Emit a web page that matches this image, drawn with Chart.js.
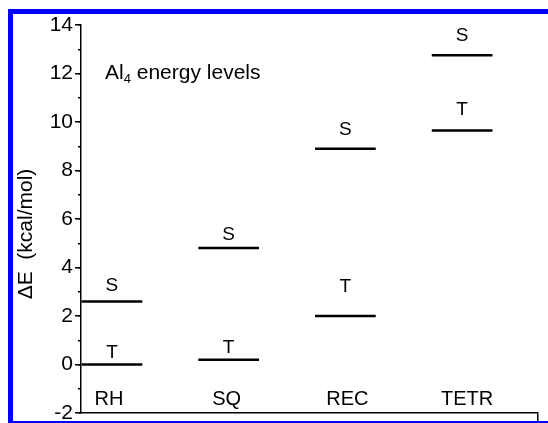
<!DOCTYPE html>
<html>
<head>
<meta charset="utf-8">
<script src="https://cdn.jsdelivr.net/npm/chart.js@4.4.0/dist/chart.umd.min.js"></script>
<style>
  html, body { margin: 0; padding: 0; background: #fff; }
  #wrap { position: relative; width: 548px; height: 423px; overflow: hidden; }
  #frame { position: absolute; left: 8px; top: 9px; width: 600px; height: 407px; border: 5px solid #0000ff; }
  canvas { position: absolute; left: 0; top: 0; }
</style>
</head>
<body>
<div id="wrap">
  <div id="frame"></div>
  <canvas id="chart" width="548" height="423"></canvas>
</div>
<script>
// energy levels of the Al4 isomers, kcal/mol
const structures = ['RH', 'SQ', 'REC', 'TETR'];
const singletE = [2.6, 4.8, 8.9, 12.75];
const tripletE = [0.0, 0.2, 2.0, 9.65];

const FONT = '"Liberation Sans", Arial, sans-serif';
const halfWidth = 0.26;          // half length of a level bar, x units
const labelGapS = [10, 8, 14, 14];  // px between bar and its S label
const labelGapT = [7, 7, 24, 15];
const nameShift = [-3, -2, 2, 5];

const datasets = [];
structures.forEach((name, i) => {
    [singletE[i], tripletE[i]].forEach(e => {
        datasets.push({
            data: [{ x: i + 1 - halfWidth, y: e }, { x: i + 1 + halfWidth, y: e }],
            showLine: true,
            borderColor: '#000',
            borderWidth: 2.5,
            pointRadius: 0
        });
    });
});

const textPlugin = {
    id: 'levelText',
    afterDraw(chart) {
        const ctx = chart.ctx;
        const xs = chart.scales.x, ys = chart.scales.y;
        ctx.save();
        ctx.fillStyle = '#000';
        ctx.textAlign = 'center';
        ctx.textBaseline = 'alphabetic';
        ctx.font = '19px ' + FONT;
        structures.forEach((name, i) => {
            const cx = xs.getPixelForValue(i + 1);
            ctx.fillText('S', cx, ys.getPixelForValue(singletE[i]) - labelGapS[i]);
            ctx.fillText('T', cx, ys.getPixelForValue(tripletE[i]) - labelGapT[i]);
        });
        ctx.font = '20px ' + FONT;
        structures.forEach((name, i) => {
            ctx.fillText(name, xs.getPixelForValue(i + 1) + nameShift[i], ys.getPixelForValue(-1.67));
        });

        // title inside the plot
        ctx.textAlign = 'left';
        ctx.font = '21px ' + FONT;
        let x = 105;
        ctx.fillText('Al', x, 79);
        x += ctx.measureText('Al').width;
        ctx.font = '13px ' + FONT;
        ctx.fillText('4', x, 83);
        x += ctx.measureText('4').width;
        ctx.font = '21px ' + FONT;
        ctx.fillText(' energy levels', x, 79);

        // y axis title
        ctx.translate(26, 234);
        ctx.rotate(-Math.PI / 2);
        ctx.textAlign = 'center';
        ctx.textBaseline = 'middle';
        ctx.font = '21px ' + FONT;
        ctx.fillText('\u0394E  (kcal/mol)', 0, 0);
        ctx.restore();
    }
};

new Chart(document.getElementById('chart'), {
    type: 'scatter',
    data: { datasets: datasets },
    options: {
        responsive: false,
        animation: false,
        layout: { padding: { top: 25, right: 10, bottom: 0, left: 0 } },
        plugins: { legend: { display: false }, tooltip: { enabled: false } },
        scales: {
            x: {
                type: 'linear',
                position: 'bottom',
                min: 0.735,
                max: 4.65,
                ticks: { display: false },
                grid: { drawOnChartArea: false, tickLength: 8, color: '#000', lineWidth: 1.5 },
                border: { color: '#000', width: 1.5 },
                afterBuildTicks(s) { s.ticks = [{ value: s.max }]; },
                afterFit(s) { s.height = 10; }
            },
            y: {
                type: 'linear',
                position: 'left',
                weight: 1,
                min: -2,
                max: 14,
                ticks: { stepSize: 2, color: '#000', padding: 2, font: { family: FONT, size: 21 } },
                grid: { drawOnChartArea: false, tickLength: 6, color: '#000', lineWidth: 1.5 },
                border: { color: '#000', width: 1.5 },
                afterFit(s) { s.width = 81; s.paddingTop = 0; s.paddingBottom = 0; }
            },
            yMinor: {
                type: 'linear',
                position: 'left',
                weight: 0,
                min: -2,
                max: 14,
                ticks: { display: false, stepSize: 1 },
                grid: { drawOnChartArea: false, tickLength: 3, color: '#000', lineWidth: 1.5 },
                border: { display: false },
                afterFit(s) { s.width = 0; }
            }
        }
    },
    plugins: [textPlugin]
});
</script>
</body>
</html>
